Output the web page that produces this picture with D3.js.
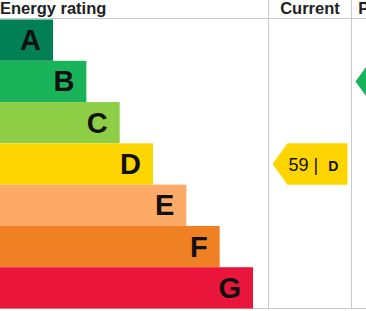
<!DOCTYPE html>
<html lang="en">
  <head>
    <meta charset="UTF-8" />
    <title>Energy rating</title>
    <script src="https://d3js.org/d3.v7.min.js"></script>
    <style>
      body {
        margin: 0;
        font-family: Arial, "Liberation Sans", sans-serif;
        background: #fff;
        overflow: hidden;
      }
      svg {
        display: block;
      }
    </style>
  </head>
  <body>
    <svg width="366" height="311"></svg>
    <script>
      // data
      const ratings = ["A", "B", "C", "D", "E", "F", "G"];
      const bandColors = ["#008054", "#19b459", "#8dce46", "#ffd500", "#fcaa65", "#ef8023", "#e9153b"];
      const columns = ["Current", "Potential"];
      const scores = [59, 84];
      const scoreBands = ["D", "B"];

      const W = 366, H = 311;
      const chartTop = 19.5, chartBottom = 308.5;
      const svg = d3.select("svg");

      // band scale for rows, linear for bar length
      const y = d3.scaleBand().domain(ratings).range([chartTop, chartBottom]).padding(0);
      const x = d3.scaleLinear().domain([0, ratings.length]).range([19.7, 253]);
      // columns for current / potential
      const col = d3.scaleBand().domain(columns).range([268.5, 434.5]);

      // grid lines
      const grid = svg.append("g").attr("stroke", "#c9c9c9").attr("stroke-width", 1);
      grid.append("line").attr("x1", 0).attr("x2", W).attr("y1", 18.5).attr("y2", 18.5);
      grid.append("line").attr("x1", 0).attr("x2", W).attr("y1", chartBottom).attr("y2", chartBottom);
      columns.forEach((c) => {
        grid.append("line")
          .attr("x1", col(c)).attr("x2", col(c))
          .attr("y1", 0).attr("y2", chartBottom);
      });

      // header
      svg.append("text")
        .attr("x", 0).attr("y", 14)
        .attr("font-size", 16.5).attr("font-weight", "bold").attr("fill", "#222")
        .text("Energy rating");
      svg.selectAll(".colhead")
        .data(columns)
        .enter()
        .append("text")
        .attr("class", "colhead")
        .attr("x", (d) => col(d) + col.bandwidth() / 2)
        .attr("y", 14)
        .attr("text-anchor", "middle")
        .attr("font-size", 16.5).attr("font-weight", "bold").attr("fill", "#222")
        .text((d) => d);

      // bars
      const rows = svg.selectAll(".row")
        .data(ratings)
        .enter()
        .append("g")
        .attr("class", "row");

      rows.append("rect")
        .attr("x", 0)
        .attr("y", (d) => y(d))
        .attr("width", (d, i) => x(i + 1))
        .attr("height", y.bandwidth())
        .attr("fill", (d, i) => bandColors[i]);

      rows.append("text")
        .attr("x", (d, i) => x(i + 1) - 12)
        .attr("y", (d) => y(d) + y.bandwidth() / 2 + 10)
        .attr("text-anchor", "end")
        .attr("font-size", 29)
        .attr("font-weight", "bold")
        .attr("fill", "#111")
        .text((d) => d);

      // arrows for current / potential
      const tipLen = 15;
      columns.forEach((c, i) => {
        const band = scoreBands[i];
        const x0 = col(c) + 4;
        const x1 = col(c) + col.bandwidth() - 4;
        const y0 = y(band);
        const y1 = y(band) + y.bandwidth();
        const ym = (y0 + y1) / 2;
        const color = bandColors[ratings.indexOf(band)];
        svg.append("path")
          .attr("d", `M${x0},${ym}L${x0 + tipLen},${y0}H${x1}V${y1}H${x0 + tipLen}Z`)
          .attr("fill", color);
        const t = svg.append("text")
          .attr("x", x0 + tipLen + 1)
          .attr("y", ym + 7)
          .attr("fill", "#111");
        t.append("tspan").attr("font-size", 18).text(scores[i] + " |");
        t.append("tspan").attr("dx", 10).attr("font-size", 14).attr("font-weight", "bold").text(band);
      });
    </script>
  </body>
</html>
